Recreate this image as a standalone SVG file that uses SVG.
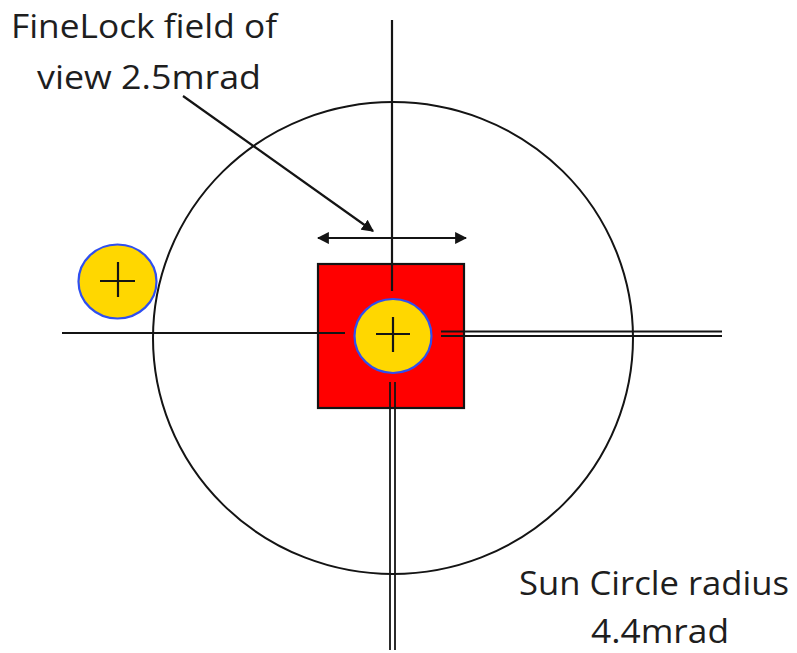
<svg xmlns="http://www.w3.org/2000/svg" width="797" height="653" viewBox="0 0 797 653">
<style>
.ln{stroke:#141414;stroke-width:2.2;fill:none}
.dbl{stroke:#141414;stroke-width:1.8;fill:none}
.sun{fill:#FFD700;stroke:#2f4ff0;stroke-width:2.2}
.txt{font-family:"Open Sans","Liberation Sans",sans-serif;font-size:32px;fill:#1e1e1e}
</style>
<defs>
<marker id="ah" viewBox="0 0 10 10" refX="9" refY="5" markerWidth="5.5" markerHeight="5.5" orient="auto-start-reverse">
<path d="M0,0 L10,5 L0,10 Z" fill="#141414"/>
</marker>
</defs>
<rect width="797" height="653" fill="#fff"/>
<g id="sun-circle">
<ellipse cx="393" cy="338" rx="240" ry="236" fill="none" stroke="#141414" stroke-width="2"/>
</g>
<g id="fov-square">
<rect x="318" y="264" width="146" height="144" fill="#FF0000" stroke="#141414" stroke-width="2.2"/>
</g>
<g id="connectors">
<line class="ln" x1="392" y1="20" x2="392" y2="291"/>
<line class="ln" x1="62" y1="333" x2="345" y2="333"/>
<line class="dbl" x1="390" y1="382" x2="390" y2="650"/>
<line class="dbl" x1="395" y1="382" x2="395" y2="650"/>
<line class="dbl" x1="441" y1="331.5" x2="722" y2="331.5"/>
<line class="dbl" x1="441" y1="336" x2="722" y2="336"/>
<line class="ln" x1="318" y1="238" x2="466" y2="238" marker-start="url(#ah)" marker-end="url(#ah)"/>
<line class="ln" x1="183" y1="96" x2="373" y2="231" marker-end="url(#ah)"/>
</g>
<g id="sun-center">
<ellipse class="sun" cx="393" cy="336" rx="38.5" ry="37"/>
<line class="ln" x1="376" y1="334" x2="410" y2="334"/>
<line class="ln" x1="393" y1="317" x2="393" y2="352"/>
</g>
<g id="sun-offset">
<ellipse class="sun" cx="117.5" cy="281.5" rx="39" ry="37"/>
<line class="ln" x1="100" y1="281" x2="135" y2="281"/>
<line class="ln" x1="118" y1="262" x2="118" y2="297"/>
</g>
<g id="label-fov">
<text class="txt" x="144" y="38" text-anchor="middle" textLength="266" lengthAdjust="spacingAndGlyphs">FineLock field of</text>
<text class="txt" x="149" y="89" text-anchor="middle" textLength="224" lengthAdjust="spacingAndGlyphs">view 2.5mrad</text>
</g>
<g id="label-sun">
<text class="txt" x="654" y="595" text-anchor="middle" textLength="270" lengthAdjust="spacingAndGlyphs">Sun Circle radius</text>
<text class="txt" x="660" y="643" text-anchor="middle" textLength="138" lengthAdjust="spacingAndGlyphs">4.4mrad</text>
</g>
</svg>
